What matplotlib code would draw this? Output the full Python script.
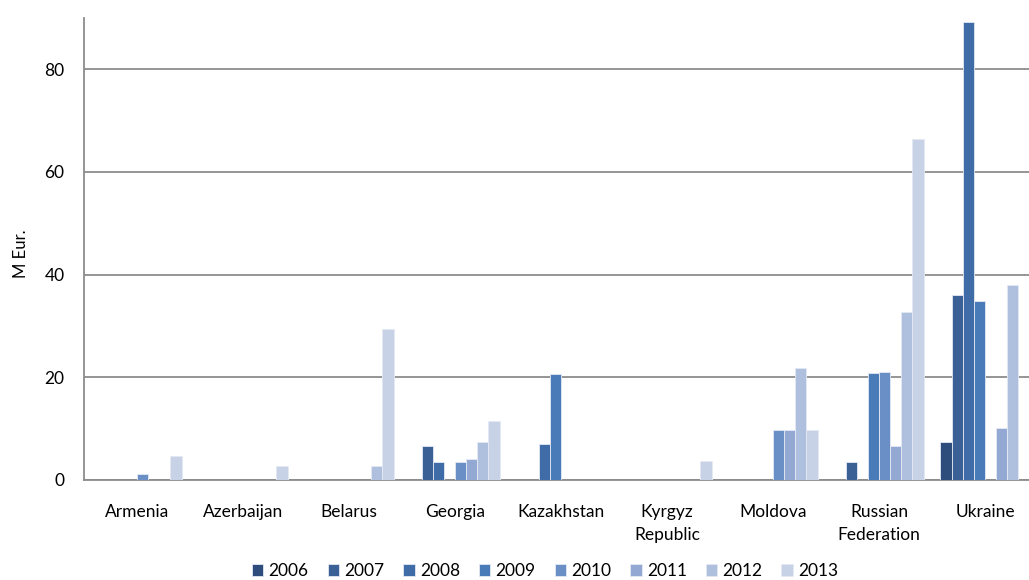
import numpy as np
import matplotlib
matplotlib.use("Agg")
import matplotlib.pyplot as plt

plt.rcParams['font.family'] = ['Lato', 'DejaVu Sans']

countries = ["Armenia", "Azerbaijan", "Belarus", "Georgia", "Kazakhstan",
             "Kyrgyz\nRepublic", "Moldova", "Russian\nFederation", "Ukraine"]
years = ["2006", "2007", "2008", "2009", "2010", "2011", "2012", "2013"]

# values in M Eur., one list per year (order of countries above)
v2006 = [0, 0, 0, 0, 0, 0, 0, 0, 7.5]
v2007 = [0, 0, 0, 6.7, 0, 0, 0, 3.5, 36.1]
v2008 = [0, 0, 0, 3.6, 7.0, 0, 0, 0, 89.2]
v2009 = [0, 0, 0, 0, 20.7, 0, 0, 20.8, 34.8]
v2010 = [1.2, 0, 0, 3.6, 0, 0, 9.8, 21.1, 0]
v2011 = [0, 0, 0, 4.0, 0, 0, 9.8, 6.6, 10.2]
v2012 = [0, 0, 2.8, 7.5, 0, 0, 21.9, 32.8, 37.9]
v2013 = [4.7, 2.8, 29.4, 11.4, 0, 3.7, 9.8, 66.5, 0]

series = [v2006, v2007, v2008, v2009, v2010, v2011, v2012, v2013]
colors = ["#2e4c7c", "#3a6096", "#3f6ca7", "#4a7bb9", "#6a8fc6",
          "#93a8d2", "#afc0de", "#c8d2e6"]

fig = plt.figure(figsize=(10.29, 5.80), dpi=100)
ax = fig.add_axes([84 / 1029, 100 / 580, 954 / 1029, 462 / 580])

n = len(years)
bw = 1 / 9.5
x = np.arange(len(countries))
for i, (vals, c) in enumerate(zip(series, colors)):
    ax.bar(x + (i - (n - 1) / 2) * bw, vals, width=bw, color=c,
           edgecolor="#e4e9f3", linewidth=0.6, label=years[i], zorder=3)

ax.set_xlim(-0.5, len(countries) - 0.5)
ax.set_ylim(0, 90)
ax.set_yticks([0, 20, 40, 60, 80])
ax.yaxis.grid(True, color="#8c8c8c", linewidth=1.3, zorder=0)
ax.set_axisbelow(True)
for s in ["top", "right"]:
    ax.spines[s].set_visible(False)
for s in ["left", "bottom"]:
    ax.spines[s].set_color("#8c8c8c")
    ax.spines[s].set_linewidth(1.3)
ax.tick_params(axis="both", length=0, labelsize=12.5, colors="black")
ax.tick_params(axis="y", pad=14)
ax.tick_params(axis="x", pad=17)
ax.set_xticks(x)
ax.set_xticklabels(countries, linespacing=1.55)
ax.set_ylabel("M Eur.", fontsize=12)
ax.yaxis.set_label_coords(-0.058, 0.49)

fig.legend(loc="lower center", bbox_to_anchor=(545 / 1029, -0.025), ncol=8,
           frameon=False, fontsize=12.5, handlelength=0.65, handleheight=0.65,
           handletextpad=0.3, columnspacing=1.1)

fig.savefig("out.png", dpi=100)
